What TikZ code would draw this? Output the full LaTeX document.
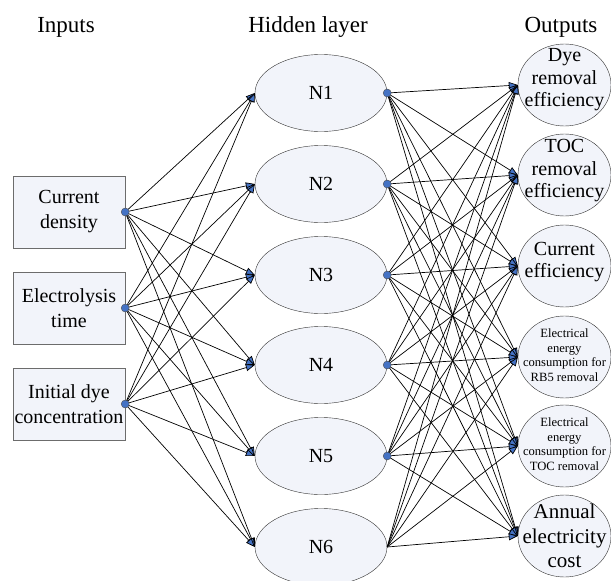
\documentclass[tikz,border=0pt]{standalone}
\usepackage{fontspec}
\newfontfamily\libserif{Liberation Serif}
\usetikzlibrary{shapes.geometric,arrows.meta}
\definecolor{dotblue}{RGB}{68,114,196}
\definecolor{paleblue}{RGB}{242,244,250}

\begin{document}
\begin{tikzpicture}
  [x=1pt, y=-1pt,
   every node/.style={inner sep=1pt},
   inbox/.style={draw=gray!85!black, rectangle, minimum width=112pt, minimum height=72pt,
                 align=center, font=\libserif\fontsize{20}{25}\selectfont, fill=paleblue},
   hid/.style={draw=black!80, ellipse, minimum width=132pt, minimum height=77pt,
               font=\libserif\fontsize{20}{24}\selectfont, fill=paleblue},
   outp/.style={draw=black!80, ellipse, minimum width=93pt, minimum height=82pt,
                fill=paleblue},
   otxt/.style={align=center, inner sep=0pt, font=\libserif\fontsize{20}{22.5}\selectfont},
   osmall/.style={align=center, inner sep=0pt, font=\libserif\fontsize{12.6}{14.5}\selectfont},
   jdot/.style={circle, draw=black!70, fill=dotblue, minimum size=8pt, inner sep=0pt},
   wire/.style={-{Triangle[length=9pt,width=7pt,fill=dotblue]}, line width=0.7pt},
   hdr/.style={anchor=base, font=\libserif\fontsize{23}{28}\selectfont}]
  \useasboundingbox (0,0) rectangle (611,581);

  % column titles
  \node[hdr] (tin) at (66,32) {Inputs};
  \node[hdr] (thid) at (308,32) {Hidden layer};
  \node[hdr] (tout) at (561,32) {Outputs};

  % inputs
  \node[inbox] (in1) at (69,212) {Current\\density};
  \node[inbox] (in2) at (69,308) {Electrolysis\\time};
  \node[inbox] (in3) at (69,404) {Initial dye\\concentration};

  % hidden layer
  \node[hid] (h1) at (321,93) {N1};
  \node[hid] (h2) at (321,184) {N2};
  \node[hid] (h3) at (321,275) {N3};
  \node[hid] (h4) at (321,365) {N4};
  \node[hid] (h5) at (321,456) {N5};
  \node[hid] (h6) at (321,547) {N6};

  % outputs
  \node[outp] (o1) at (564.5,85) {};
  \node[outp] (o2) at (564.5,175) {};
  \node[outp] (o3) at (564.5,266) {};
  \node[outp] (o4) at (564.5,357) {};
  \node[outp] (o5) at (564.5,446) {};
  \node[outp] (o6) at (564.5,536) {};
  \node[otxt] (o1t) at ([yshift=5pt]o1.center) {Dye\\removal\\efficiency};
  \node[otxt] (o2t) at ([yshift=4pt]o2.center) {TOC\\removal\\efficiency};
  \node[otxt] (o3t) at ([yshift=4pt]o3.center) {Current\\efficiency};
  \node[osmall] (o4t) at ([yshift=2pt]o4.center) {Electrical\\energy\\consumption for\\RB5 removal};
  \node[osmall] (o5t) at ([yshift=2pt]o5.center) {Electrical\\energy\\consumption for\\TOC removal};
  \node[otxt, font=\libserif\fontsize{21}{24.5}\selectfont] (o6t) at (o6.center) {Annual\\electricity\\cost};

  % connections
  \foreach \i in {1,2,3}
    \foreach \j in {1,...,6}
      \draw[wire] (in\i.east) -- (h\j.west);
  \foreach \i in {1,...,6}
    \foreach \j in {1,...,6}
      \draw[wire] (h\i.east) -- (o\j.west);

  % dots
  \foreach \i in {1,2,3}
    \node[jdot] (di\i) at (in\i.east) {};
  \foreach \i in {1,...,5}
    \node[jdot] (dh\i) at (h\i.east) {};
\end{tikzpicture}
\end{document}
